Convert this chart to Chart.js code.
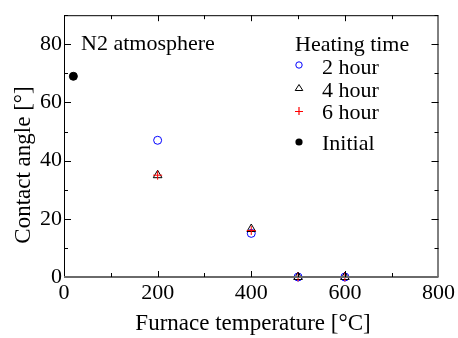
<!DOCTYPE html>
<html>
<head>
<meta charset="utf-8">
<script src="https://cdn.jsdelivr.net/npm/chart.js@4.4.0/dist/chart.umd.min.js"></script>
<style>
html,body{margin:0;padding:0;background:#fff;}
#wrap{width:458px;height:338px;position:relative;}
</style>
</head>
<body>
<div id="wrap"><canvas id="c" width="458" height="338"></canvas></div>
<script>
// ---- data ----
const temperatures = [200, 400, 500, 600];
const angle2h = [47, 15, 0, 0];
const angle4h = [35, 16.5, 0, 0];
const angle6h = [35, 16, 0, 0];
const initialTemp = [20];
const initialAngle = [69];
const xTicks = [0, 200, 400, 600, 800];
const yTicks = [0, 20, 40, 60, 80];
const xMinor = [100, 300, 500, 700];
const yMinor = [10, 30, 50, 70, 90];
const legendTitle = 'Heating time';
const seriesNames = ['2 hour', '4 hour', '6 hour', 'Initial'];
const annotation = 'N2 atmosphere';
const xTitle = 'Furnace temperature [°C]';
const yTitle = 'Contact angle [°]';

const FONT = '"Liberation Serif", "Times New Roman", serif';
const pts = (xs, ys) => xs.map((x, i) => ({x: x, y: ys[i]}));

const framePlugin = {
  id: 'frame',
  afterDraw(chart) {
    const ctx = chart.ctx, a = chart.chartArea;
    const xs = chart.scales.x, ys = chart.scales.y;
    ctx.save();
    // frame
    ctx.strokeStyle = '#000';
    ctx.lineWidth = 1;
    ctx.beginPath();
    ctx.moveTo(a.left + 0.5, a.bottom);
    ctx.lineTo(a.left + 0.5, a.top + 0.5);
    ctx.lineTo(a.right - 0.5, a.top + 0.5);
    ctx.lineTo(a.right - 0.5, a.bottom);
    ctx.stroke();
    ctx.strokeStyle = '#6a6a6a';
    ctx.lineWidth = 2;
    ctx.beginPath();
    ctx.moveTo(a.left, a.bottom);
    ctx.lineTo(a.right, a.bottom);
    ctx.stroke();
    // ticks
    ctx.strokeStyle = '#000';
    ctx.lineWidth = 1;
    ctx.beginPath();
    const xt = (v, len) => {
      const p = Math.round(xs.getPixelForValue(v)) + 0.5;
      ctx.moveTo(p, a.bottom); ctx.lineTo(p, a.bottom - len);
      ctx.moveTo(p, a.top); ctx.lineTo(p, a.top + len);
    };
    const yt = (v, len) => {
      const p = Math.round(ys.getPixelForValue(v)) + 0.5;
      ctx.moveTo(a.left, p); ctx.lineTo(a.left + len, p);
      ctx.moveTo(a.right, p); ctx.lineTo(a.right - len, p);
    };
    xTicks.slice(1, -1).forEach(v => xt(v, 6));
    xMinor.forEach(v => xt(v, 4));
    yTicks.slice(1).forEach(v => yt(v, 7));
    yMinor.forEach(v => yt(v, 4));
    ctx.stroke();

    // texts
    ctx.fillStyle = '#000';
    ctx.font = '22px ' + FONT;
    ctx.textBaseline = 'alphabetic';
    ctx.textAlign = 'left';
    ctx.fillText(annotation, 81, 50);
    ctx.fillText(legendTitle, 295, 51);
    const lx = 299, tx = 322;
    const rows = [65, 88, 111, 142];
    const base = [74, 97, 119, 150];
    seriesNames.forEach((n, i) => ctx.fillText(n, tx, base[i]));
    // legend markers
    ctx.lineWidth = 1;
    ctx.strokeStyle = '#0000ff';
    ctx.beginPath(); ctx.arc(lx, rows[0], 3.2, 0, Math.PI * 2); ctx.stroke();
    ctx.strokeStyle = '#000000';
    ctx.beginPath();
    ctx.moveTo(lx, rows[1] - 3.5); ctx.lineTo(lx + 3.8, rows[1] + 2.5); ctx.lineTo(lx - 3.8, rows[1] + 2.5); ctx.closePath(); ctx.stroke();
    ctx.strokeStyle = '#ff0000';
    ctx.lineWidth = 1.2;
    ctx.beginPath();
    ctx.moveTo(lx - 4, rows[2] + 0.5); ctx.lineTo(lx + 4, rows[2] + 0.5);
    ctx.moveTo(lx, rows[2] - 4); ctx.lineTo(lx, rows[2] + 4);
    ctx.stroke();
    ctx.fillStyle = '#000';
    ctx.beginPath(); ctx.arc(lx, rows[3], 3.6, 0, Math.PI * 2); ctx.fill();

    // axis titles
    ctx.font = '23px ' + FONT;
    ctx.textAlign = 'center';
    ctx.fillText(xTitle, 253, 330);
    ctx.save();
    ctx.translate(30, 165);
    ctx.rotate(-Math.PI / 2);
    ctx.fillText(yTitle, 0, 0);
    ctx.restore();
    ctx.restore();
  }
};

new Chart(document.getElementById('c'), {
  type: 'scatter',
  data: {
    datasets: [
      {label: seriesNames[0], data: pts(temperatures, angle2h), pointStyle: 'circle', pointRadius: 4, borderColor: '#0000ff', backgroundColor: 'rgba(0,0,0,0)', borderWidth: 1, order: 3, clip: false},
      {label: seriesNames[1], data: pts(temperatures, angle4h), pointStyle: 'triangle', pointRadius: 5, borderColor: '#000', backgroundColor: 'rgba(0,0,0,0)', borderWidth: 1, order: 2, clip: false},
      {label: seriesNames[2], data: pts(temperatures, angle6h), pointStyle: 'cross', pointRadius: 4.5, borderColor: '#ff0000', backgroundColor: '#ff0000', borderWidth: 1, order: 1, clip: false},
      {label: seriesNames[3], data: pts(initialTemp, initialAngle), pointStyle: 'circle', pointRadius: 4, borderColor: '#000', backgroundColor: '#000', borderWidth: 1, order: 0, clip: false}
    ]
  },
  options: {
    responsive: false,
    animation: false,
    events: [],
    layout: {padding: {top: 11, right: 18, left: 0, bottom: 0}},
    plugins: {legend: {display: false}, tooltip: {enabled: false}},
    scales: {
      x: {
        type: 'linear', min: 0, max: 800,
        afterBuildTicks: s => { s.ticks = xTicks.map(v => ({value: v})); },
        afterFit: s => { s.height = 61; },
        grid: {display: false, drawTicks: false},
        border: {display: false},
        ticks: {color: '#000', font: {family: FONT, size: 22}, padding: 3, maxRotation: 0, autoSkip: false}
      },
      y: {
        type: 'linear', min: 0, max: 90,
        afterBuildTicks: s => { s.ticks = yTicks.map(v => ({value: v})); },
        afterFit: s => { s.width = 64; },
        grid: {display: false, drawTicks: false},
        border: {display: false},
        ticks: {color: '#000', font: {family: FONT, size: 22}, padding: 2, autoSkip: false}
      }
    }
  },
  plugins: [framePlugin]
});
</script>
</body>
</html>
